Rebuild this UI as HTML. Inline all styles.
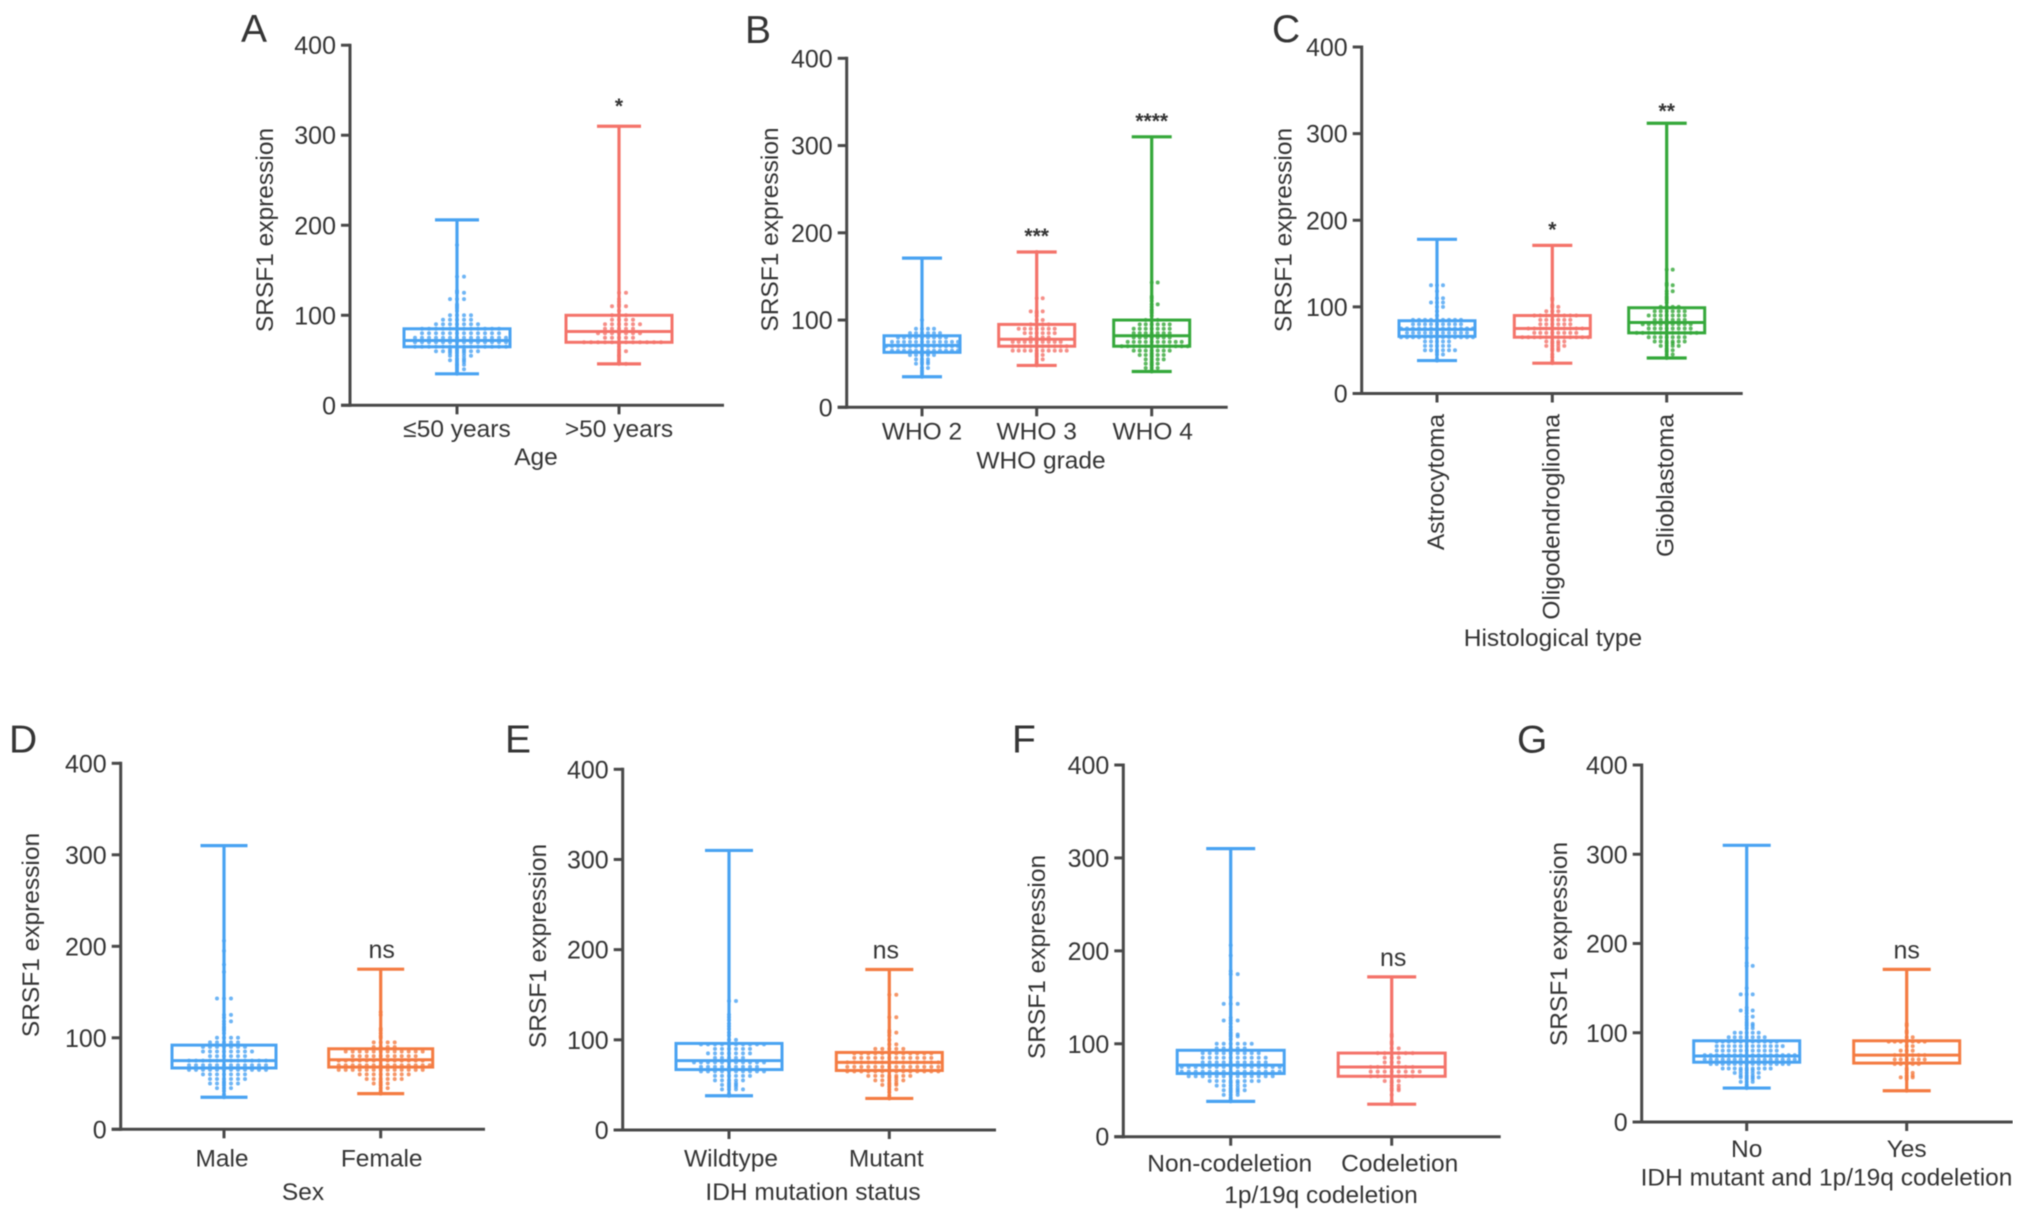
<!DOCTYPE html>
<html>
<head>
<meta charset="utf-8">
<title>SRSF1 expression by clinical group</title>
<style>
html,body{margin:0;padding:0;background:#fff;width:2032px;height:1221px;overflow:hidden}
svg{display:block;font-family:"Liberation Sans",sans-serif}
text{fill:#363636}
</style>
</head>
<body>
<svg id="figure" xmlns="http://www.w3.org/2000/svg" width="2032" height="1221" viewBox="0 0 2032 1221">
<defs><filter id="soft" x="0" y="0" width="100%" height="100%"><feGaussianBlur stdDeviation="0.6"/></filter></defs>
<rect width="2032" height="1221" fill="#fff"/>
<g id="root" filter="url(#soft)"></g>
</svg>
<script>
const yTicks = [0, 100, 200, 300, 400];

const panelACategories = ["≤50 years", ">50 years"];
const panelAMin = [35, 46];
const panelAQ1 = [65, 70];
const panelAMedian = [72, 82];
const panelAQ3 = [85, 100];
const panelAMax = [206, 310];
const panelASig = ["", "*"];
const panelAPoints = [
 [35,36,38,40,40,42,44,45,45,46,48,48,50,50,50,52,52,55,55,55,55,58,58,58,60,60,60,60,60,60,60,62,62,62,65,65,65,65,65,65,65,65,65,65,65,65,65,65,70,70,70,70,70,70,70,70,70,70,70,70,70,70,75,75,75,75,75,75,75,75,75,75,75,75,75,75,80,80,80,80,80,80,80,80,80,80,80,80,85,85,85,85,85,85,85,85,85,85,85,85,90,90,90,90,90,90,90,95,95,95,95,95,100,100,100,100,105,108,110,112,118,118,118,125,125,127,143,143,178],
 [46,46,47,48,50,52,54,55,56,58,60,60,62,65,68,70,70,70,70,70,70,70,70,70,70,70,70,75,75,75,75,75,80,80,80,80,80,80,80,85,85,85,85,85,90,90,90,90,90,90,95,95,95,95,100,100,100,105,110,110,110,112,115,118,125,125]
];

const panelBCategories = ["WHO 2", "WHO 3", "WHO 4"];
const panelBMin = [35, 48, 41];
const panelBQ1 = [63, 70, 70];
const panelBMedian = [71, 78, 82];
const panelBQ3 = [82, 95, 100];
const panelBMax = [171, 178, 310];
const panelBSig = ["", "***", "****"];
const panelBPoints = [
 [35,38,40,42,45,45,50,50,50,52,52,55,55,55,60,60,60,60,60,62,62,65,65,65,65,65,65,65,65,65,65,65,65,70,70,70,70,70,70,70,70,70,70,70,70,70,75,75,75,75,75,75,75,75,75,75,75,75,80,80,80,80,80,80,80,80,80,85,85,85,85,85,85,90,90,90,90,100],
 [48,50,52,55,55,58,60,60,62,65,65,65,65,65,65,65,65,65,65,70,70,70,70,70,70,70,70,70,70,75,75,75,75,75,75,75,75,75,80,80,80,80,85,85,85,85,85,85,90,90,90,90,90,90,90,95,95,95,95,100,100,105,108,110,110,110,125,125,178],
 [41,42,45,45,45,48,50,50,50,52,55,55,55,55,58,60,60,60,60,60,62,65,65,65,65,65,65,65,70,70,70,70,70,70,70,70,70,70,70,70,75,75,75,75,75,75,75,75,75,75,80,80,80,80,80,80,80,85,85,85,85,85,85,85,90,90,90,90,90,90,90,95,95,95,95,95,95,100,100,100,105,108,110,112,115,118,118,122,125,127,143,143]
];

const panelCCategories = ["Astrocytoma", "Oligodendroglioma", "Glioblastoma"];
const panelCMin = [38, 35, 41];
const panelCQ1 = [66, 65, 70];
const panelCMedian = [74, 75, 82];
const panelCQ3 = [84, 90, 99];
const panelCMax = [178, 171, 312];
const panelCSig = ["", "*", "**"];
const panelCPoints = [
 [38,40,45,45,48,50,50,50,50,50,50,55,55,55,55,55,60,60,60,60,60,65,65,65,65,65,65,65,65,65,65,65,65,65,70,70,70,70,70,70,70,70,70,70,70,75,75,75,75,75,75,75,75,75,75,75,75,75,80,80,80,80,80,80,80,80,80,85,85,85,85,85,85,85,85,85,90,95,100,100,105,105,105,110,110,118,125,125,125],
 [35,38,42,45,50,50,52,52,55,55,55,55,58,58,60,60,60,60,65,65,65,65,65,65,65,65,65,65,65,65,70,70,70,70,70,70,70,70,75,75,75,75,75,75,75,75,75,75,80,80,80,80,80,80,85,85,85,85,85,85,90,90,90,90,90,90,90,90,95,95,95,100,100,102,108,110],
 [41,42,45,45,48,50,50,52,55,55,55,55,58,58,60,60,60,60,60,60,65,65,65,65,65,65,65,70,70,70,70,70,70,70,70,70,70,70,75,75,75,75,75,75,75,75,80,80,80,80,80,80,80,80,80,85,85,85,85,85,85,90,90,90,90,90,90,90,95,95,95,95,95,95,100,100,100,100,105,108,110,112,115,118,118,125,125,127,143,143]
];

const panelDCategories = ["Male", "Female"];
const panelDMin = [35, 39];
const panelDQ1 = [67, 68];
const panelDMedian = [75, 76];
const panelDQ3 = [92, 88];
const panelDMax = [310, 175];
const panelDSig = ["", "ns"];
const panelDPoints = [
 [35,38,42,45,45,45,48,50,50,50,50,50,52,55,55,55,55,55,55,60,60,60,60,60,60,60,65,65,65,65,65,65,65,65,65,65,65,65,70,70,70,70,70,70,70,70,70,70,70,70,75,75,75,75,75,75,75,75,75,75,75,75,80,80,80,80,80,80,85,85,85,85,85,85,85,85,90,90,90,90,90,90,90,95,95,95,95,95,100,100,100,100,105,108,110,112,115,118,118,122,125,125,143,143,143,172,180,195,206],
 [39,40,42,45,45,48,50,50,50,52,55,55,55,55,55,55,60,60,60,60,60,60,60,60,65,65,65,65,65,65,65,65,65,65,65,65,65,70,70,70,70,70,70,70,70,70,70,70,70,70,70,75,75,75,75,75,75,75,75,75,75,75,75,75,80,80,80,80,80,80,80,80,80,80,85,85,85,85,85,85,85,85,85,85,85,85,90,90,90,90,95,95,95,95,100,102,105,108,110,125,128]
];

const panelECategories = ["Wildtype", "Mutant"];
const panelEMin = [38, 35];
const panelEQ1 = [67, 66];
const panelEMedian = [77, 75];
const panelEQ3 = [96, 86];
const panelEMax = [310, 178];
const panelESig = ["", "ns"];
const panelEPoints = [
 [38,40,45,45,45,45,48,48,50,50,50,52,52,55,55,55,55,55,60,60,60,60,60,60,65,65,65,65,65,65,65,65,65,65,70,70,70,70,70,70,70,70,70,75,75,75,75,75,75,75,75,75,75,75,80,80,80,80,80,85,85,85,85,85,85,85,90,90,90,90,90,90,95,95,95,95,95,95,95,95,95,95,100,100,105,108,112,115,118,122,125,128,143,143],
 [35,38,42,45,45,48,50,50,50,52,52,55,55,55,55,55,58,58,60,60,60,60,60,60,60,65,65,65,65,65,65,65,65,65,65,65,65,65,65,70,70,70,70,70,70,70,70,70,70,70,70,70,70,75,75,75,75,75,75,75,75,75,75,75,75,75,75,80,80,80,80,80,80,80,80,80,80,80,80,85,85,85,85,85,85,85,85,85,85,85,85,90,90,90,90,90,95,95,100,105,108,108,110,125,125,150,150]
];

const panelFCategories = ["Non-codeletion", "Codeletion"];
const panelFMin = [38, 35];
const panelFQ1 = [68, 65];
const panelFMedian = [77, 75];
const panelFQ3 = [93, 90];
const panelFMax = [310, 172];
const panelFSig = ["", "ns"];
const panelFPoints = [
 [38,40,42,45,45,45,48,48,50,50,50,50,52,52,55,55,55,55,55,58,58,60,60,60,60,60,60,60,60,65,65,65,65,65,65,65,65,65,65,65,65,65,70,70,70,70,70,70,70,70,70,70,70,70,70,70,70,75,75,75,75,75,75,75,75,75,75,75,75,75,75,75,80,80,80,80,80,80,80,80,80,80,85,85,85,85,85,85,85,85,85,85,90,90,90,90,90,90,90,90,90,95,95,95,95,95,100,100,100,100,100,100,105,108,108,110,110,112,115,118,122,125,125,125,128,143,143,143,150,175,175,178,195,206],
 [35,38,45,50,50,52,52,55,55,58,60,60,60,65,65,65,65,65,65,65,70,70,70,70,70,70,70,70,75,75,75,75,75,75,75,80,80,80,85,85,85,90,90,90,90,90,90,95,95,100,102,108,110]
];

const panelGCategories = ["No", "Yes"];
const panelGMin = [38, 35];
const panelGQ1 = [67, 66];
const panelGMedian = [74, 75];
const panelGQ3 = [91, 91];
const panelGMax = [310, 171];
const panelGSig = ["", "ns"];
const panelGPoints = [
 [38,40,42,45,45,45,48,48,50,50,50,50,52,52,52,55,55,55,55,55,58,58,58,60,60,60,60,60,60,60,60,60,65,65,65,65,65,65,65,65,65,65,65,65,65,65,70,70,70,70,70,70,70,70,70,70,70,70,70,70,70,70,75,75,75,75,75,75,75,75,75,75,75,75,75,75,75,75,80,80,80,80,80,80,80,80,80,80,80,85,85,85,85,85,85,85,85,85,85,85,85,90,90,90,90,90,90,90,90,90,90,90,95,95,95,95,95,95,95,100,100,100,100,100,105,105,108,108,110,110,112,115,118,118,122,125,125,125,128,143,143,143,150,175,175,178,195,206],
 [35,48,50,50,50,52,52,55,55,58,60,65,65,65,65,65,70,70,70,70,70,70,75,75,75,75,75,75,80,80,80,85,85,90,90,90,90,90,90,90,95,95,100,102,108,110]
];

const BLUE = "#4aa3f2", RED = "#f4736a", GREEN = "#35a83a", ORANGE = "#f47c42";
const root = document.getElementById("root");
const NS = "http://www.w3.org/2000/svg";

function make(tag, attrs, parent) {
  const el = document.createElementNS(NS, tag);
  for (const k in attrs) el.setAttribute(k, attrs[k]);
  parent.appendChild(el);
  return el;
}

function line(parent, x1, y1, x2, y2, color, w) {
  return make("line", {x1: x1, y1: y1, x2: x2, y2: y2, stroke: color, "stroke-width": w}, parent);
}

function label(parent, str, x, y, size, anchor, rot) {
  const a = {x: x, y: y, "font-size": size, "text-anchor": anchor};
  if (rot) a.transform = "rotate(-90 " + x + " " + y + ")";
  const t = make("text", a, parent);
  t.textContent = str;
  return t;
}

function drawPanel(c) {
  const g = make("g", {}, root);
  
  
  const yScale = v => c.y0 - v * (c.y0 - c.y400) / 400;
  const xScale = i => c.centers[i];

  const letter = label(g, c.id.toUpperCase(), c.lx, c.ly, 39, "start");
  
  

  const yt = label(g, "SRSF1 expression", c.ytx, c.yty, 24.5, "middle", true);
  
  

  const xt = label(g, c.xTitle, c.xtx, c.xty, 24.5, "middle");
  
  

  c.categories.forEach((cat, i) => {
    const color = c.colors[i];
    const cx = xScale(i);
    const grp = make("g", {}, g);
    
    

    const rows = {};
    c.points[i].forEach(v => {
      const r = Math.round(v);
      const n = rows[r] = (rows[r] || 0) + 1;
      const k = Math.floor(n / 2) * (n % 2 ? -1 : 1);
      const dot = make("circle", {cx: cx + k * c.dotGap, cy: yScale(v), r: 2, fill: color, opacity: 0.8}, grp);
      
      
    });

    const whisker = line(grp, cx, yScale(c.max[i]), cx, yScale(c.min[i]), color, 3.2);
    
    
    const capTop = line(grp, cx - c.cap, yScale(c.max[i]), cx + c.cap, yScale(c.max[i]), color, 3.2);
    
    
    const capBottom = line(grp, cx - c.cap, yScale(c.min[i]), cx + c.cap, yScale(c.min[i]), color, 3.2);
    
    
    const box = make("rect", {x: cx - c.box, y: yScale(c.q3[i]), width: 2 * c.box, height: yScale(c.q1[i]) - yScale(c.q3[i]), fill: "none", stroke: color, "stroke-width": 3}, grp);
    
    
    const med = line(grp, cx - c.box, yScale(c.median[i]), cx + c.box, yScale(c.median[i]), color, 3);
    
    

    if (c.sig[i]) {
      const ns = c.sig[i] === "ns";
      const extra = c.sigDy ? c.sigDy[i] : 0;
      const s = label(grp, c.sig[i], cx + (ns ? c.sigDx : 0), yScale(c.max[i]) + (ns ? -11 : -9) + extra, ns ? 25 : 21, "middle");
      if (!ns) s.setAttribute('font-weight', 'bold');
      
      
    }

    const tick = line(g, cx, c.y0, cx, c.y0 + 9, "#4a4a4a", 3);
    
    

    const t = c.rotated
      ? label(g, cat, cx + 7, c.labelY, 24.5, "end", true)
      : label(g, cat, cx + (c.labelDx ? c.labelDx[i] : 0), c.labelY, 24.5, "middle");
    
    
  });

  const yAxis = line(g, c.axisX, c.y400 - 1.5, c.axisX, c.y0 + 1.5, "#4a4a4a", 3);
  
  
  const xAxis = line(g, c.axisX - 9, c.y0, c.xEnd, c.y0, "#4a4a4a", 3);
  
  

  yTicks.forEach(v => {
    const tk = line(g, c.axisX - 9, yScale(v), c.axisX, yScale(v), "#4a4a4a", 3);
    
    
    const tl = label(g, String(v), c.axisX - 14, yScale(v) + 9, 25, "end");
    
    
  });
}

drawPanel({id:"a", categories:panelACategories, min:panelAMin, q1:panelAQ1, median:panelAMedian, q3:panelAQ3, max:panelAMax, sig:panelASig, points:panelAPoints,
  colors:[BLUE,RED], axisX:350, y0:405.3, y400:45.2, xEnd:724, centers:[457,619], box:53, cap:22, dotGap:7, sigDx:0, sigDy:[0,-4],
  lx:241, ly:42, ytx:273, yty:230, xTitle:"Age", xtx:536, xty:465, labelY:437});
drawPanel({id:"b", categories:panelBCategories, min:panelBMin, q1:panelBQ1, median:panelBMedian, q3:panelBQ3, max:panelBMax, sig:panelBSig, points:panelBPoints,
  colors:[BLUE,RED,GREEN], axisX:846.7, y0:407.3, y400:58.3, xEnd:1227.7, centers:[922,1036.7,1151.7], box:38, cap:20, dotGap:6, sigDx:0, labelDx:[0,0,1],
  lx:745, ly:43, ytx:778, yty:229.5, xTitle:"WHO grade", xtx:1041, xty:468.5, labelY:439.5});
drawPanel({id:"c", categories:panelCCategories, min:panelCMin, q1:panelCQ1, median:panelCMedian, q3:panelCQ3, max:panelCMax, sig:panelCSig, points:panelCPoints,
  colors:[BLUE,RED,GREEN], axisX:1361.7, y0:393.5, y400:47, xEnd:1742.7, centers:[1437,1552.3,1666.7], box:38, cap:20, dotGap:6, sigDx:0, sigDy:[0,0,4], rotated:true,
  lx:1272, ly:42, ytx:1291.5, yty:230, xTitle:"Histological type", xtx:1553, xty:646, labelY:414});
drawPanel({id:"d", categories:panelDCategories, min:panelDMin, q1:panelDQ1, median:panelDMedian, q3:panelDQ3, max:panelDMax, sig:panelDSig, points:panelDPoints,
  colors:[BLUE,ORANGE], axisX:120.7, y0:1129.3, y400:763.3, xEnd:485, centers:[224,380.7], box:52, cap:23.5, dotGap:7, sigDx:1, labelDx:[-2,1],
  lx:9, ly:752.7, ytx:39, yty:935, xTitle:"Sex", xtx:303, xty:1200, labelY:1166.7});
drawPanel({id:"e", categories:panelECategories, min:panelEMin, q1:panelEQ1, median:panelEMedian, q3:panelEQ3, max:panelEMax, sig:panelESig, points:panelEPoints,
  colors:[BLUE,ORANGE], axisX:622.7, y0:1130, y400:769.3, xEnd:996, centers:[729,889.3], box:53, cap:24, dotGap:7, sigDx:-3.5, labelDx:[2,-3],
  lx:505, ly:752.7, ytx:546, yty:946, xTitle:"IDH mutation status", xtx:813, xty:1200, labelY:1166.7});
drawPanel({id:"f", categories:panelFCategories, min:panelFMin, q1:panelFQ1, median:panelFMedian, q3:panelFQ3, max:panelFMax, sig:panelFSig, points:panelFPoints,
  colors:[BLUE,RED], axisX:1123.3, y0:1136.7, y400:765, xEnd:1500.7, centers:[1230.7,1391.7], box:53.5, cap:24.5, dotGap:7, sigDx:1.5, labelDx:[-1,8],
  lx:1012, ly:752.7, ytx:1045, yty:957, xTitle:"1p/19q codeletion", xtx:1321, xty:1203, labelY:1171.7});
drawPanel({id:"g", categories:panelGCategories, min:panelGMin, q1:panelGQ1, median:panelGMedian, q3:panelGQ3, max:panelGMax, sig:panelGSig, points:panelGPoints,
  colors:[BLUE,ORANGE], axisX:1641.7, y0:1122, y400:765, xEnd:2012.7, centers:[1746.7,1906.7], box:53, cap:24, dotGap:6, sigDx:0,
  lx:1517, ly:752.7, ytx:1567, yty:944, xTitle:"IDH mutant and 1p/19q codeletion", xtx:1826.5, xty:1185.5, labelY:1157});
</script>
</body>
</html>
